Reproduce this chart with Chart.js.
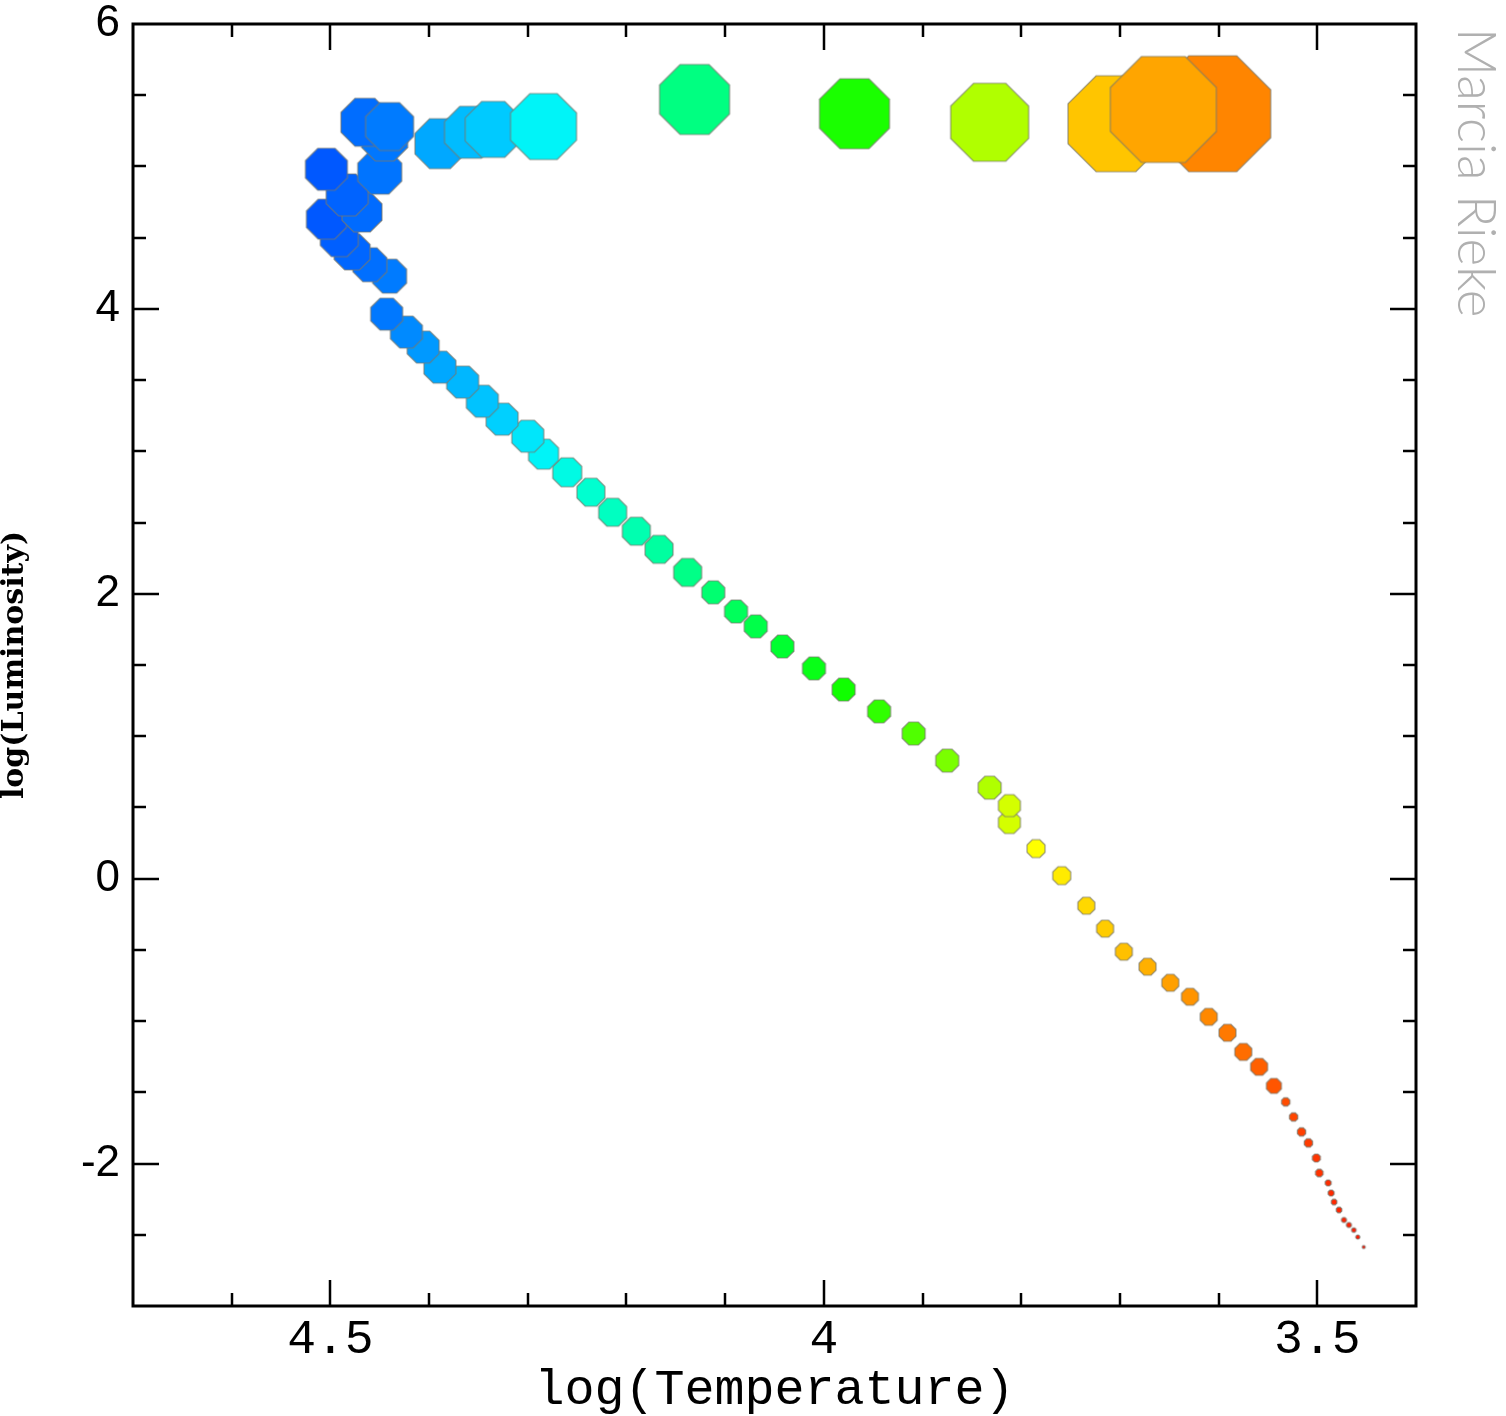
<!DOCTYPE html>
<html><head><meta charset="utf-8">
<script src="https://cdn.jsdelivr.net/npm/chart.js@4/dist/chart.umd.min.js"></script>
<style>html,body{margin:0;padding:0;background:#fff}#wrap{width:1506px;height:1416px}</style>
</head><body><div id="wrap"><canvas id="c" width="1506" height="1416"></canvas></div>
<script>
// ---------------- data ----------------
const logTemperature = [
  3.453,3.459,3.463,3.468,3.473,3.478,3.483,3.486,3.489,3.498,3.501,3.509,3.516,3.524,3.532,
  3.544,3.559,3.575,3.591,3.610,3.629,3.649,3.672,3.696,3.715,3.734,3.759,3.785,3.812,3.812,
  3.832,3.875,3.909,3.944,3.980,4.010,4.042,4.069,4.089,4.112,4.138,4.167,4.190,4.214,4.236,
  4.260,4.284,4.300,4.326,4.346,4.366,4.389,4.406,4.423,4.443,
  4.440,4.460,4.478,4.491,4.504,4.468,4.483,4.504,4.450,4.445,4.465,4.440,4.389,4.358,4.335,4.284,
  4.131,3.969,3.832,3.704,3.606,3.656
];
const logLuminosity = [
  -2.586,-2.516,-2.467,-2.431,-2.396,-2.326,-2.270,-2.207,-2.136,-2.066,-1.961,-1.855,-1.778,-1.673,-1.567,
  -1.455,-1.321,-1.216,-1.082,-0.970,-0.829,-0.731,-0.618,-0.513,-0.351,-0.190,0.021,0.211,0.394,0.513,
  0.639,0.829,1.019,1.174,1.328,1.476,1.630,1.771,1.876,2.010,2.150,2.312,2.439,2.572,2.713,
  2.853,2.980,3.106,3.226,3.352,3.486,3.591,3.732,3.837,3.963,
  4.230,4.310,4.400,4.500,4.630,4.680,4.800,4.980,4.960,5.200,5.310,5.280,5.160,5.240,5.260,5.280,
  5.470,5.370,5.310,5.300,5.370,5.400
];
// relative stellar radius shown by the marker size
const starRadius = [
  0.15,0.2,0.22,0.25,0.25,0.28,0.28,0.3,0.3,0.38,0.4,0.42,0.42,0.42,0.42,
  0.75,0.85,0.85,0.85,0.85,0.85,0.85,0.85,0.85,0.85,0.85,0.9,0.9,1.1,1.1,
  1.15,1.15,1.15,1.15,1.15,1.15,1.15,1.15,1.15,1.15,1.4,1.4,1.4,1.4,1.4,
  1.45,1.5,1.6,1.6,1.6,1.6,1.6,1.6,1.6,1.6,
  1.7,1.7,1.8,1.9,2.0,2.0,2.1,2.1,2.2,2.3,2.4,2.4,2.5,2.6,2.8,3.3,
  3.5,3.5,3.9,4.8,5.8,5.3
];
const xTickLabelValues = [4.5, 4, 3.5];
const yTickLabelValues = [-2, 0, 2, 4, 6];
const xMinorTickValues = [4.6,4.5,4.4,4.3,4.2,4.1,4.0,3.9,3.8,3.7,3.6,3.5];
const yMinorTickValues = [-2.5,-2,-1.5,-1,-0.5,0,0.5,1,1.5,2,2.5,3,3.5,4,4.5,5,5.5];
const xTitle = 'log(Temperature)';
const yTitle = 'log(Luminosity)';
const credit = 'Marcia Rieke';

// ---------------- styles ----------------
const colorStops = [
  [3.45,[255,16,0]],[3.516,[255,64,0]],[3.559,[255,96,0]],[3.61,[255,136,0]],[3.649,[255,160,0]],
  [3.696,[255,192,0]],[3.734,[255,216,0]],[3.785,[255,255,0]],[3.812,[212,255,0]],[3.832,[176,255,0]],
  [3.875,[122,255,0]],[3.909,[80,255,0]],[3.98,[16,255,0]],[4.042,[0,255,48]],[4.112,[0,255,112]],
  [4.167,[0,255,160]],[4.236,[0,255,208]],[4.284,[0,244,248]],[4.326,[0,208,255]],[4.389,[0,168,255]],
  [4.443,[0,120,255]],[4.52,[0,80,255]]
];
function tempColor(t){
  if (t <= colorStops[0][0]) return 'rgb('+colorStops[0][1].join(',')+')';
  for (let i=1;i<colorStops.length;i++){
    const [t1,c1]=colorStops[i];
    if (t <= t1){
      const [t0,c0]=colorStops[i-1];
      const f=(t-t0)/(t1-t0);
      return 'rgb('+c0.map((v,k)=>Math.round(v+(c1[k]-v)*f)).join(',')+')';
    }
  }
  return 'rgb('+colorStops[colorStops.length-1][1].join(',')+')';
}
const PX_PER_RADIUS = 10;
const styleCache = {};
function octagon(r, fill){
  const key = r.toFixed(2)+fill;
  if (styleCache[key]) return styleCache[key];
  const s = Math.ceil(2*r+4);
  const c = document.createElement('canvas');
  c.width = s; c.height = s;
  const g = c.getContext('2d');
  g.translate(s/2, s/2);
  const R = r/Math.cos(Math.PI/8);
  g.beginPath();
  for (let k=0;k<8;k++){
    const a = Math.PI/8 + k*Math.PI/4;
    const px = R*Math.cos(a), py = R*Math.sin(a);
    if (k===0) g.moveTo(px,py); else g.lineTo(px,py);
  }
  g.closePath();
  g.fillStyle = fill; g.fill();
  g.lineWidth = 1.2; g.strokeStyle = 'rgba(120,120,110,0.75)'; g.stroke();
  styleCache[key] = c;
  return c;
}

const points = logTemperature.map((t,i)=>({x:t, y:logLuminosity[i]}));

const framePlugin = {
  id:'frame',
  afterDatasetsDraw(chart){
    const {ctx, chartArea:a, scales:{x,y}} = chart;
    ctx.save();
    ctx.strokeStyle = '#000';
    ctx.lineWidth = 2.5;
    ctx.beginPath();
    for (const v of xMinorTickValues){
      const px = Math.round(x.getPixelForValue(v));
      const L = xTickLabelValues.some(m=>Math.abs(m-v)<1e-6) ? 26 : 13;
      ctx.moveTo(px, a.top); ctx.lineTo(px, a.top+L);
      ctx.moveTo(px, a.bottom); ctx.lineTo(px, a.bottom-L);
    }
    for (const v of yMinorTickValues){
      const py = Math.round(y.getPixelForValue(v));
      const L = yTickLabelValues.some(m=>Math.abs(m-v)<1e-6) ? 26 : 13;
      ctx.moveTo(a.left, py); ctx.lineTo(a.left+L, py);
      ctx.moveTo(a.right, py); ctx.lineTo(a.right-L, py);
    }
    ctx.stroke();
    ctx.lineWidth = 3;
    ctx.strokeRect(a.left, a.top, a.right-a.left, a.bottom-a.top);
    ctx.restore();
  },
  afterDraw(chart){
    const ctx = chart.ctx;
    ctx.save();
    ctx.translate(1458, 28);
    ctx.rotate(Math.PI/2);
    ctx.fillStyle = '#b0b0b0';
    ctx.font = '300 53px Lato, "Liberation Sans", sans-serif';
    ctx.textBaseline = 'alphabetic';
    ctx.textAlign = 'left';
    ctx.fillText(credit, 0, 0);
    ctx.restore();
  }
};

new Chart(document.getElementById('c'), {
  type:'scatter',
  data:{datasets:[{
    data: points,
    pointRadius: 1,
    pointStyle: c => octagon(starRadius[c.dataIndex]*PX_PER_RADIUS, tempColor(logTemperature[c.dataIndex])),
    backgroundColor: c => tempColor(logTemperature[c.dataIndex]),
    borderWidth: 0
  }]},
  options:{
    responsive:false, animation:false, events:[],
    layout:{padding:{left:0, top:24, right:90, bottom:0}},
    plugins:{legend:{display:false}, tooltip:{enabled:false}},
    scales:{
      x:{
        type:'linear', reverse:true, min:3.4, max:4.7,
        afterBuildTicks: s => { s.ticks = xTickLabelValues.map(v=>({value:v})); },
        afterFit: s => { s.height = 110; },
        grid:{display:false, drawTicks:false}, border:{display:false},
        ticks:{color:'#000', padding:10, maxRotation:0, autoSkip:false,
               font:{family:'"Liberation Mono", monospace', size:48, lineHeight:1},
               callback: v => String(v)},
        title:{display:true, text:xTitle, color:'#000',
               font:{family:'"Liberation Mono", monospace', size:50, lineHeight:1},
               padding:{top:0,bottom:0}}
      },
      y:{
        type:'linear', min:-3, max:6,
        afterBuildTicks: s => { s.ticks = yTickLabelValues.map(v=>({value:v})); },
        afterFit: s => { s.width = 133; s.paddingTop = 0; s.paddingBottom = 0; },
        grid:{display:false, drawTicks:false}, border:{display:false},
        ticks:{color:'#000', padding:13, autoSkip:false,
               font:{family:'"Liberation Sans", sans-serif', size:44, lineHeight:1},
               callback: v => String(v)},
        title:{display:true, text:yTitle, color:'#000',
               font:{family:'"DejaVu Serif", serif', size:30, weight:'bold', lineHeight:1},
               padding:{top:0,bottom:0}}
      }
    }
  },
  plugins:[framePlugin]
});
</script></body></html>
